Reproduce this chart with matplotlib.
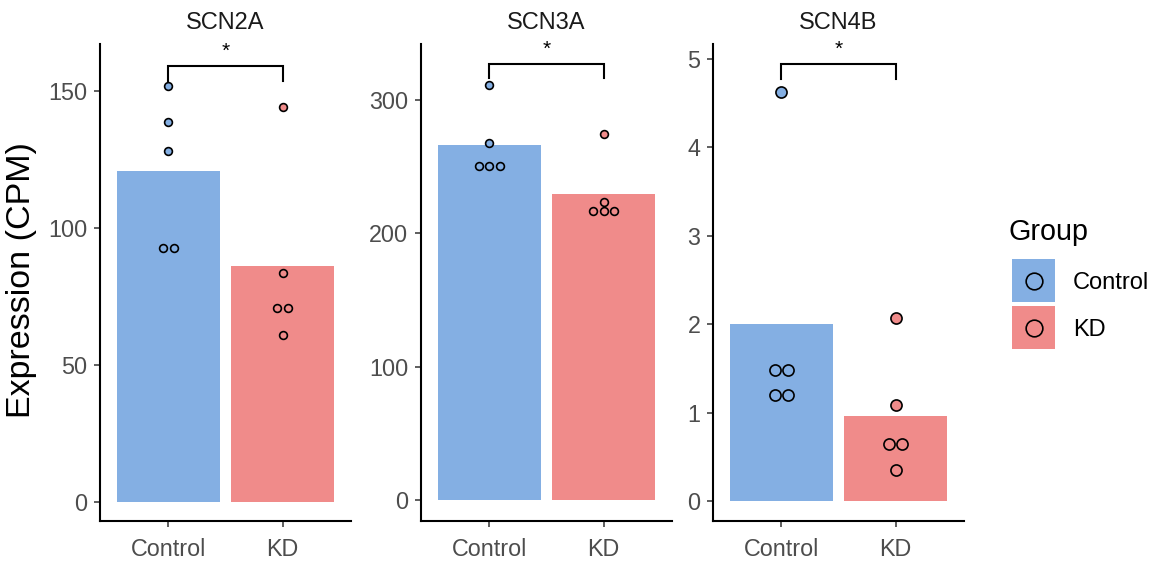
import numpy as np
import matplotlib
matplotlib.use("Agg")
import matplotlib.pyplot as plt
from matplotlib.patches import Rectangle

plt.rcParams['font.family'] = ['Liberation Sans', 'DejaVu Sans']

# ---------------- data ----------------
genes = ["SCN2A", "SCN3A", "SCN4B"]
groups = ["Control", "KD"]

scn2a_control = [151.8, 138.6, 127.8, 92.7, 92.7]
scn2a_kd = [143.9, 83.4, 70.7, 70.7, 60.8]
scn3a_control = [311.0, 267.4, 250.6, 250.6, 250.6]
scn3a_kd = [274.0, 223.6, 216.9, 216.9, 216.9]
scn4b_control = [4.63, 1.485, 1.485, 1.196, 1.196]
scn4b_kd = [2.067, 1.086, 0.648, 0.648, 0.351]

bracket_top = [158.8, 326.8, 4.94]
sig_labels = ["*", "*", "*"]

yticks = [[0, 50, 100, 150], [0, 100, 200, 300], [0, 1, 2, 3, 4, 5]]
ylims = [(-7.1, 167.0), (-15.7, 341.8), (-0.226, 5.17)]

# ---------------- style ----------------
colors = {"Control": "#84AFE3", "KD": "#F08B8A"}
point_size = [5.6, 5.6, 8.0]
dodge = [0.096, 0.095, 0.12]

data = [
    {"Control": scn2a_control, "KD": scn2a_kd},
    {"Control": scn3a_control, "KD": scn3a_kd},
    {"Control": scn4b_control, "KD": scn4b_kd},
]

W, H = 1157, 567
fig = plt.figure(figsize=(W / 100, H / 100), dpi=100)

panel_left_px = [100, 421, 713]
panel_w_px = 251
top_px, bot_px = 44, 521

tick_col = "#4D4D4D"

for i, gene in enumerate(genes):
    ax = fig.add_axes([panel_left_px[i] / W, 1 - bot_px / H,
                       panel_w_px / W, (bot_px - top_px) / H])
    xs = np.arange(len(groups)) + 1
    for j, g in enumerate(groups):
        vals = np.array(data[i][g], dtype=float)
        ax.bar(xs[j], vals.mean(), width=0.9, color=colors[g], linewidth=0, zorder=1)
        # dodge identical values horizontally
        uniq = []
        for v in vals:
            if v not in uniq:
                uniq.append(v)
        for v in uniq:
            n = int(np.sum(vals == v))
            offs = (np.arange(n) - (n - 1) / 2) * dodge[i]
            ax.plot(xs[j] + offs, [v] * n, linestyle="none", marker="o",
                    markersize=point_size[i], markerfacecolor=colors[g],
                    markeredgecolor="black", markeredgewidth=1.2, zorder=3)
    # significance bracket
    yl = ylims[i]
    tip = 0.03 * (yl[1] - yl[0])
    bt = bracket_top[i]
    ax.plot([xs[0], xs[0], xs[1], xs[1]], [bt - tip, bt, bt, bt - tip],
            color="black", linewidth=1.5, solid_joinstyle="miter", zorder=4,
            clip_on=False)
    ax.annotate(sig_labels[i], xy=((xs[0] + xs[1]) / 2, bt), xytext=(0, 4),
                textcoords="offset points", ha="center", va="bottom",
                fontsize=15, color="black")

    ax.set_xlim(0.4, 2.6)
    ax.set_ylim(*yl)
    ax.set_xticks(xs)
    ax.set_xticklabels(groups)
    ax.set_yticks(yticks[i])
    ax.tick_params(axis="both", colors="#333333", labelcolor=tick_col,
                   labelsize=16.8, length=4.5, width=1.1)
    ax.tick_params(axis="y", pad=4.5)
    ax.tick_params(axis="x", pad=8)
    for s in ["top", "right"]:
        ax.spines[s].set_visible(False)
    for s in ["left", "bottom"]:
        ax.spines[s].set_linewidth(1.5)
        ax.spines[s].set_color("black")
    ax.set_title(gene, fontsize=17, pad=10.5, color="#1A1A1A")

fig.text(0.019, 1 - 280 / H, "Expression (CPM)", rotation=90, fontsize=24.5,
         ha="center", va="center", color="black")

# ---------------- legend (manual, pixel overlay) ----------------
lax = fig.add_axes([0, 0, 1, 1])
lax.set_xlim(0, W)
lax.set_ylim(H, 0)
lax.axis("off")
lax.text(1009, 240, "Group", fontsize=20.7, ha="left", va="baseline",
         color="black")
key_x, key_size, key_gap = 1012, 43, 4
for k, g in enumerate(groups):
    y0 = 259 + k * (key_size + key_gap)
    lax.add_patch(Rectangle((key_x, y0), key_size, key_size,
                            facecolor=colors[g], edgecolor="none"))
    lax.plot([key_x + key_size / 2], [y0 + key_size / 2], linestyle="none",
             marker="o", markersize=12, markerfacecolor=colors[g],
             markeredgecolor="black", markeredgewidth=1.2)
    lax.text(1073, y0 + key_size / 2, g, fontsize=17, ha="left",
             va="center_baseline", color="black")

fig.savefig("out.png", dpi=100)
